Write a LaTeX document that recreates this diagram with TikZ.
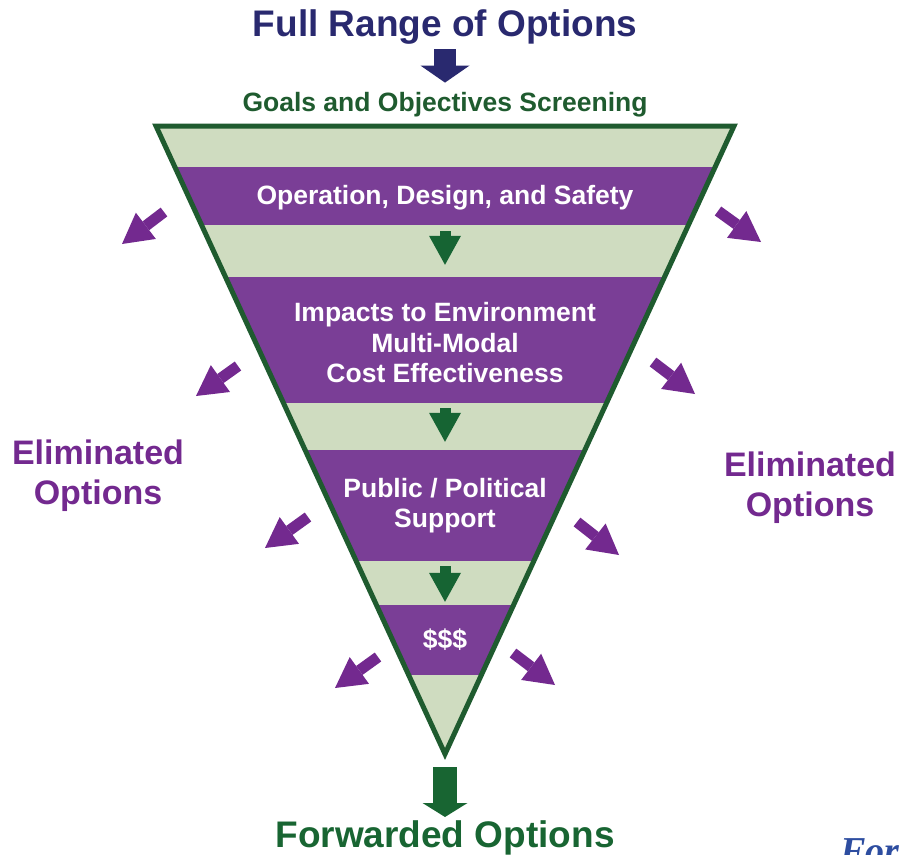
\documentclass[tikz,border=0pt]{standalone}
\usepackage{fontspec}
\setmainfont{Liberation Sans}
\newfontfamily\forfont{Liberation Serif}
\usepackage{tikz}
\usetikzlibrary{arrows.meta, positioning}
\usepackage{xcolor}

\definecolor{funnelgreen}{HTML}{1F5B2F}
\definecolor{bandgreen}{HTML}{CFDCC0}
\definecolor{bandpurple}{HTML}{7A3E96}
\definecolor{elimpurple}{HTML}{73298F}
\definecolor{stepgreen}{HTML}{166433}
\definecolor{titlenavy}{HTML}{29296F}
\definecolor{fwdgreen}{HTML}{186532}
\definecolor{forblue}{HTML}{2D4DA0}

\begin{document}
\begin{tikzpicture}[x=1pt, y=-1pt, >=Triangle]
				\tikzstyle{band} = [fill=bandpurple, text=white, inner sep=0pt, minimum width=620, align=center, font=\bfseries\fontsize{26.5}{30.5}\selectfont]
				\tikzstyle{bandtext} = [text=white, inner sep=0pt, align=center, font=\bfseries\fontsize{26.5}{30.5}\selectfont]
				\tikzstyle{heading} = [inner sep=0pt, anchor=base, font=\bfseries\fontsize{37}{40}\selectfont]
				\tikzstyle{elimtext} = [text=elimpurple, inner sep=0pt, align=center, font=\bfseries\fontsize{34}{40}\selectfont]
				\tikzstyle{stepdown} = [stepgreen, line width=11pt, -{Triangle[length=29pt, width=32pt, line width=0pt]}]
				\tikzstyle{elim} = [elimpurple, line width=11pt, -{Triangle[length=30pt, width=33pt, line width=0pt]}]
				
				\useasboundingbox (0,0) rectangle (899,854);
				
				% funnel
				\coordinate (tl) at (156,126);
				\coordinate (tr) at (734,126);
				\coordinate (ap) at (445,754);
				\fill[bandgreen] (tl) -- (tr) -- (ap) -- cycle;
				\begin{scope}
					\clip (tl) -- (tr) -- (ap) -- cycle;
					\node[band, minimum height=58]	at (445,196)	(ops)		{};
					\node[band, minimum height=126]	at (445,340)	(impacts)	{};
					\node[band, minimum height=111]	at (445,505.5)	(public)	{Public / Political\\Support};
					\node[band, minimum height=70]	at (445,640)	(money)		{\$\$\$};
				\end{scope}
				\node[bandtext]	at (445,198)	(opstext)		{Operation, Design, and Safety};
				\node[bandtext]	at (445,343)	(impactstext)	{Impacts to Environment\\Multi-Modal\\Cost Effectiveness};
				\draw[funnelgreen, line width=5pt, line join=miter] (tl) -- (tr) -- (ap) -- cycle;
				
				% headings
				\node[heading, text=titlenavy]	at (445,36)		(title)	{Full Range of Options};
				\node[heading, text=funnelgreen, font=\bfseries\fontsize{26.5}{30}\selectfont]	at (445,111)	(goals)	{Goals and Objectives Screening};
				\node[heading, text=fwdgreen]	at (445,847)	(fwd)	{Forwarded Options};
				\node[elimtext]	at (98,476)		(elimL)	{Eliminated\\Options};
				\node[elimtext]	at (810,488)	(elimR)	{Eliminated\\Options};
				\begin{scope}
					\clip (0,0) rectangle (899,854);
					\node[inner sep=0pt, anchor=base west, text=forblue, font=\forfont\bfseries\itshape\fontsize{38}{40}\selectfont]	at (840,863)	(fortext)	{For};
				\end{scope}
				
				% flow arrows
				\draw[titlenavy, line width=22pt, -{Triangle[length=17pt, width=49pt, line width=0pt]}] ([yshift=-5pt]title.south) -- ([yshift=9pt]goals.north);
				\draw[stepdown] ([yshift=-6pt]ops.south) -- ([yshift=12pt]impacts.north);
				\draw[stepdown] ([yshift=-5pt]impacts.south) -- ([yshift=8pt]public.north);
				\draw[stepdown] ([yshift=-5pt]public.south) -- ([yshift=3pt]money.north);
				\draw[fwdgreen, line width=24pt, -{Triangle[length=14pt, width=45pt, line width=0pt]}] ([yshift=-13pt]ap) -- ([yshift=3pt]fwd.north);
				
				% eliminated
				\coordinate (l1) at (164,212);	\coordinate (l1e) at (122,244);
				\coordinate (l2) at (238,366);	\coordinate (l2e) at (196,396);
				\coordinate (l3) at (308,517);	\coordinate (l3e) at (265,548);
				\coordinate (l4) at (378,657);	\coordinate (l4e) at (335,688);
				\coordinate (r1) at (718,211);	\coordinate (r1e) at (761,242);
				\coordinate (r2) at (653,362);	\coordinate (r2e) at (695,394);
				\coordinate (r3) at (577,522);	\coordinate (r3e) at (619,555);
				\coordinate (r4) at (513,653);	\coordinate (r4e) at (555,685);
				\draw[elim] (l1) -- (l1e);
				\draw[elim] (l2) -- (l2e);
				\draw[elim] (l3) -- (l3e);
				\draw[elim] (l4) -- (l4e);
				\draw[elim] (r1) -- (r1e);
				\draw[elim] (r2) -- (r2e);
				\draw[elim] (r3) -- (r3e);
				\draw[elim] (r4) -- (r4e);
			\end{tikzpicture}
\end{document}
